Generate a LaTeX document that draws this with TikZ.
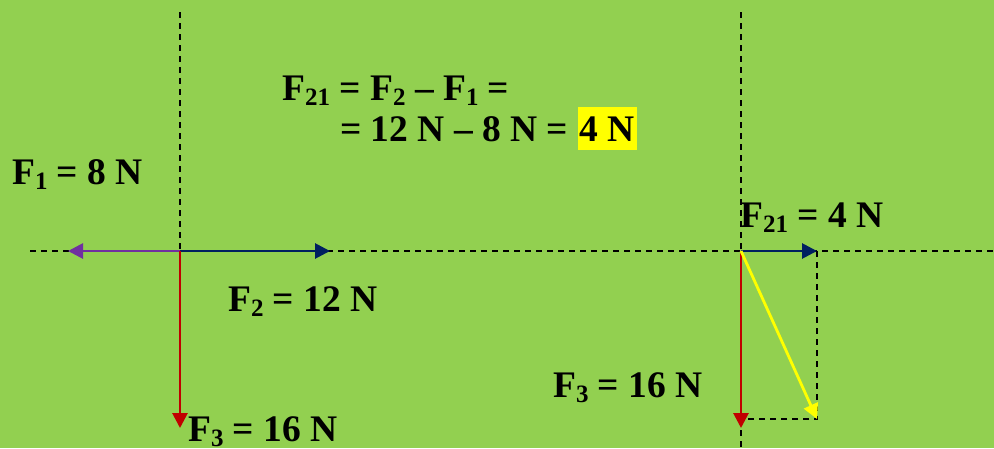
\documentclass[tikz,border=0pt]{standalone}
\usepackage{fontspec}
\setmainfont{Liberation Serif}
\usetikzlibrary{arrows.meta}
\definecolor{bg}{HTML}{92D050}
\definecolor{vpurple}{HTML}{7030A0}
\definecolor{vblue}{HTML}{002060}
\definecolor{vred}{HTML}{C00000}
\definecolor{vyellow}{HTML}{FFFF00}
\newcommand\fsb[1]{\raisebox{-5pt}{\fontsize{25}{25}\selectfont #1}}
\tikzset{
  guide/.style={black, line width=1.3pt, dash pattern=on 6pt off 5pt},
  force/.style={line width=2.8pt, -{Triangle[length=15pt,width=15pt]}},
  lbl/.style={font=\fontsize{37.5}{44}\selectfont\bfseries, inner sep=0pt, anchor=base west},
}
\begin{document}
\begin{tikzpicture}[x=1pt,y=-1pt]
\fill[bg] (0,0) rectangle (994,448);
\useasboundingbox (0,0) rectangle (994,448);
% points
\coordinate (O1) at (180,251);
\coordinate (O2) at (741,251);
\coordinate (hl) at (30,251);
\coordinate (hr) at (994,251);
\coordinate (v1t) at (180,12);
\coordinate (v2t) at (741,12);
\coordinate (v2b) at (741,448);
\coordinate (p1) at (68,251);
\coordinate (p2) at (330,251);
\coordinate (p3) at (180,428);
\coordinate (q2) at (817,251);
\coordinate (q3) at (741,428);
\coordinate (qr) at (817,419);
\coordinate (ql) at (741,419);
% guides
\draw[guide] (hl) -- (hr);
\draw[guide] (v1t) -- (O1);
\draw[guide] (v2t) -- (v2b);
\draw[guide] (q2) -- (qr) -- (ql);
% forces
\draw[force, vpurple] (O1) -- (p1);
\draw[force, vblue] (O1) -- (p2);
\draw[force, vred] (O1) -- (p3);
\draw[force, vblue] (O2) -- (q2);
\draw[force, vred] (O2) -- (q3);
\draw[force, vyellow] (O2) -- (qr);
% labels
\node[lbl] (f1) at (12,184) {F\fsb{1} = 8 N};
\node[lbl] (f2) at (228,311) {F\fsb{2} = 12 N};
\node[lbl] (f3) at (188,441) {F\fsb{3} = 16 N};
\node[lbl] (e1) at (282,100) {F\fsb{21} = F\fsb{2} – F\fsb{1} =};
\node[lbl] (e2) at (340,141) {= 12 N – 8 N = {\setlength\fboxsep{2pt}\colorbox{vyellow}{\rule[-7pt]{0pt}{39pt}4 N}}};
\node[lbl] (f21) at (740,227) {F\fsb{21} = 4 N};
\node[lbl] (f3b) at (553,397) {F\fsb{3} = 16 N};
\end{tikzpicture}
\end{document}
